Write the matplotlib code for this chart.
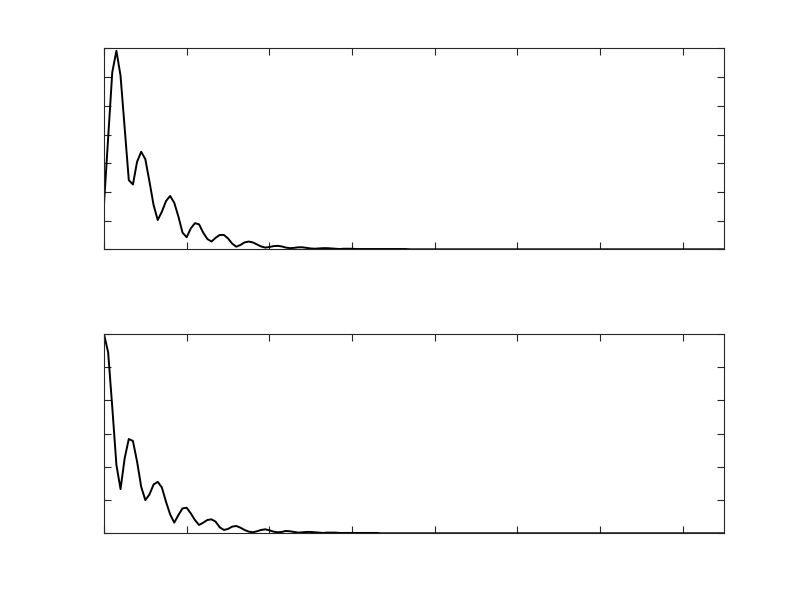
import numpy as np
import matplotlib
matplotlib.use('Agg')
import matplotlib.pyplot as plt

# sample index 0..150
n = np.arange(151)

top_vals = [
    1.58, 3.90, 6.17, 6.92, 6.05, 4.25, 2.41, 2.26, 3.05, 3.40,
    3.14, 2.36, 1.54, 1.02, 1.31, 1.68, 1.86, 1.62, 1.14, 0.58,
    0.42, 0.73, 0.91, 0.87, 0.58, 0.36, 0.27, 0.40, 0.50, 0.50,
    0.38, 0.20, 0.09, 0.15, 0.24, 0.27, 0.24, 0.17, 0.10, 0.06,
    0.08, 0.11, 0.12, 0.10, 0.06, 0.04, 0.05, 0.07, 0.07, 0.05,
    0.03, 0.02, 0.03, 0.04, 0.04, 0.03, 0.02, 0.01, 0.02, 0.02,
    0.02, 0.01, 0.01, 0.01, 0.01, 0.01, 0.01, 0.01, 0.01, 0.01,
    0.01, 0.01, 0.01, 0.01, 0.00, 0.00, 0.00, 0.00, 0.00, 0.00,
    0.00, 0.00, 0.00, 0.00, 0.00, 0.00, 0.00, 0.00, 0.00, 0.00,
    0.00, 0.00, 0.00, 0.00, 0.00, 0.00, 0.00, 0.00, 0.00, 0.00,
    0.00, 0.00, 0.00, 0.00, 0.00, 0.00, 0.00, 0.00, 0.00, 0.00,
    0.00, 0.00, 0.00, 0.00, 0.00, 0.00, 0.00, 0.00, 0.00, 0.00,
    0.00, 0.00, 0.00, 0.00, 0.00, 0.00, 0.00, 0.00, 0.00, 0.00,
    0.00, 0.00, 0.00, 0.00, 0.00, 0.00, 0.00, 0.00, 0.00, 0.00,
    0.00, 0.00, 0.00, 0.00, 0.00, 0.00, 0.00, 0.00, 0.00, 0.00,
    0.00,
]

bottom_vals = [
    6.00, 5.45, 3.80, 2.06, 1.33, 2.26, 2.84, 2.78, 2.16, 1.40,
    1.00, 1.17, 1.47, 1.55, 1.38, 0.95, 0.57, 0.32, 0.55, 0.75,
    0.77, 0.60, 0.40, 0.25, 0.32, 0.40, 0.42, 0.35, 0.18, 0.10,
    0.13, 0.20, 0.22, 0.17, 0.10, 0.05, 0.03, 0.06, 0.10, 0.12,
    0.09, 0.05, 0.03, 0.04, 0.07, 0.06, 0.04, 0.02, 0.03, 0.04,
    0.04, 0.03, 0.02, 0.01, 0.02, 0.02, 0.02, 0.01, 0.01, 0.01,
    0.01, 0.01, 0.01, 0.01, 0.01, 0.01, 0.01, 0.00, 0.00, 0.00,
    0.00, 0.00, 0.00, 0.00, 0.00, 0.00, 0.00, 0.00, 0.00, 0.00,
    0.00, 0.00, 0.00, 0.00, 0.00, 0.00, 0.00, 0.00, 0.00, 0.00,
    0.00, 0.00, 0.00, 0.00, 0.00, 0.00, 0.00, 0.00, 0.00, 0.00,
    0.00, 0.00, 0.00, 0.00, 0.00, 0.00, 0.00, 0.00, 0.00, 0.00,
    0.00, 0.00, 0.00, 0.00, 0.00, 0.00, 0.00, 0.00, 0.00, 0.00,
    0.00, 0.00, 0.00, 0.00, 0.00, 0.00, 0.00, 0.00, 0.00, 0.00,
    0.00, 0.00, 0.00, 0.00, 0.00, 0.00, 0.00, 0.00, 0.00, 0.00,
    0.00, 0.00, 0.00, 0.00, 0.00, 0.00, 0.00, 0.00, 0.00, 0.00,
    0.00,
]

x_ticks = [0, 20, 40, 60, 80, 100, 120, 140]
top_yticks = [0, 1, 2, 3, 4, 5, 6, 7]
bottom_yticks = [0, 1, 2, 3, 4, 5, 6]

fig = plt.figure(figsize=(8, 6), dpi=100)
ax1 = fig.add_axes([0.13, 0.5845, 0.775, 0.3347])
ax2 = fig.add_axes([0.13, 0.1112, 0.775, 0.332])

def style(ax, yticks):
    ax.set_xlim(0, 150)
    ax.set_ylim(yticks[0], yticks[-1])
    ax.set_xticks(x_ticks)
    ax.set_yticks(yticks)
    ax.set_xticklabels([])
    ax.set_yticklabels([])
    ax.tick_params(direction='in', length=5, width=0.8, color='#262626',
                   top=True, right=True)
    for s in ax.spines.values():
        s.set_color('#262626')
        s.set_linewidth(0.8)

ax1.plot(n, top_vals, color='black', linewidth=1.4)
style(ax1, top_yticks)

ax2.plot(n, bottom_vals, color='black', linewidth=1.4)
style(ax2, bottom_yticks)

fig.savefig('out.png', dpi=100)
